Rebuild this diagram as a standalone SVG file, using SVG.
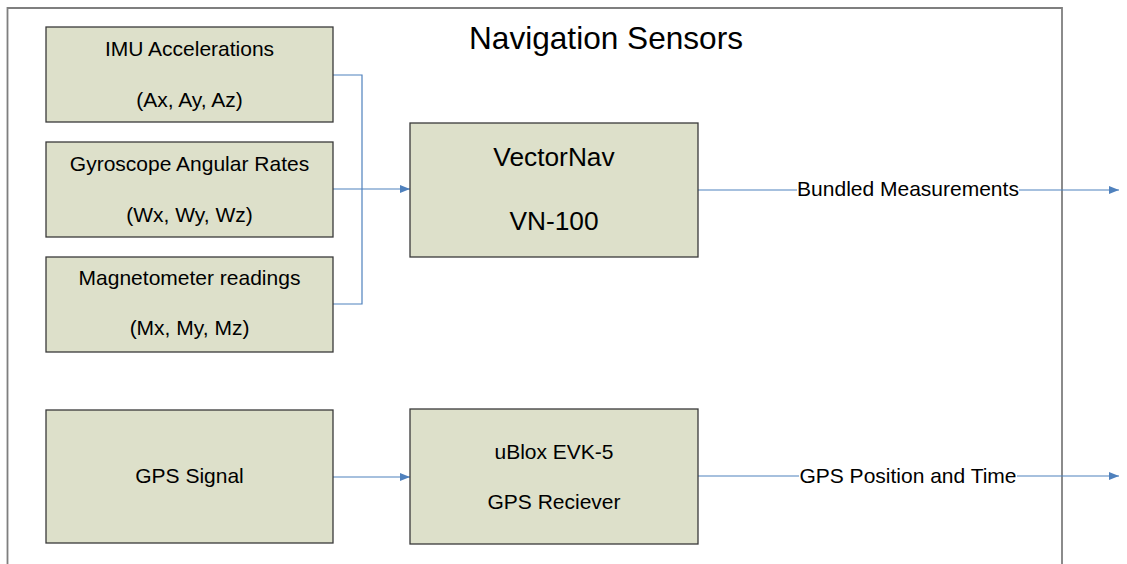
<svg xmlns="http://www.w3.org/2000/svg" width="1127" height="564" viewBox="0 0 1127 564">
<style>
.box{fill:#dde0ca;stroke:#3a3a3a;stroke-width:1.3}
.t{font-family:"Liberation Sans",Arial,sans-serif;fill:#000;text-anchor:middle}
.s21{font-size:21px}
.s26{font-size:26.3px}
.conn{fill:none;stroke:#4f81bd;stroke-width:1.2}
.lbl{fill:#fff}
</style>
<defs>
<marker id="arr" viewBox="0 0 10 8" refX="10" refY="4" markerWidth="10" markerHeight="8" markerUnits="userSpaceOnUse" orient="auto">
<path d="M0,0 L10,4 L0,8 z" fill="#4f81bd"/>
</marker>
</defs>
<rect width="1127" height="564" fill="#fff"/>
<g id="frame">
<path d="M7.5,564 V8 H1062 V564" fill="none" stroke="#7f7f7f" stroke-width="1.8"/>
<text class="t" x="606" y="49" font-size="31.6">Navigation Sensors</text>
</g>
<g id="connectors">
<path class="conn" d="M333,75 H362 V304 H333"/>
<path class="conn" d="M333,189 H410" marker-end="url(#arr)"/>
<path class="conn" d="M698,190 H1119" marker-end="url(#arr)"/>
<path class="conn" d="M333,477 H410" marker-end="url(#arr)"/>
<path class="conn" d="M698,476 H1119" marker-end="url(#arr)"/>
<rect class="lbl" x="797" y="180" width="222" height="20"/>
<text class="t s21" x="908" y="196">Bundled Measurements</text>
<rect class="lbl" x="799" y="466" width="218" height="20"/>
<text class="t s21" x="908" y="483">GPS Position and Time</text>
</g>
<g id="imu">
<rect class="box" x="46" y="27" width="287" height="95"/>
<text class="t s21" x="189.5" y="56">IMU Accelerations</text>
<text class="t s21" x="189.5" y="107">(Ax, Ay, Az)</text>
</g>
<g id="gyro">
<rect class="box" x="46" y="142" width="287" height="95"/>
<text class="t s21" x="189.5" y="171">Gyroscope Angular Rates</text>
<text class="t s21" x="189.5" y="222">(Wx, Wy, Wz)</text>
</g>
<g id="mag">
<rect class="box" x="46" y="257" width="287" height="95"/>
<text class="t s21" x="189.5" y="285">Magnetometer readings</text>
<text class="t s21" x="189.5" y="335">(Mx, My, Mz)</text>
</g>
<g id="gpssignal">
<rect class="box" x="46" y="410" width="287" height="133"/>
<text class="t s21" x="189.5" y="483">GPS Signal</text>
</g>
<g id="vectornav">
<rect class="box" x="410" y="123" width="288" height="134"/>
<text class="t s26" x="554" y="166">VectorNav</text>
<text class="t s26" x="554" y="230">VN-100</text>
</g>
<g id="ublox">
<rect class="box" x="410" y="409" width="288" height="135"/>
<text class="t s21" x="554" y="459">uBlox EVK-5</text>
<text class="t s21" x="554" y="509">GPS Reciever</text>
</g>
</svg>
